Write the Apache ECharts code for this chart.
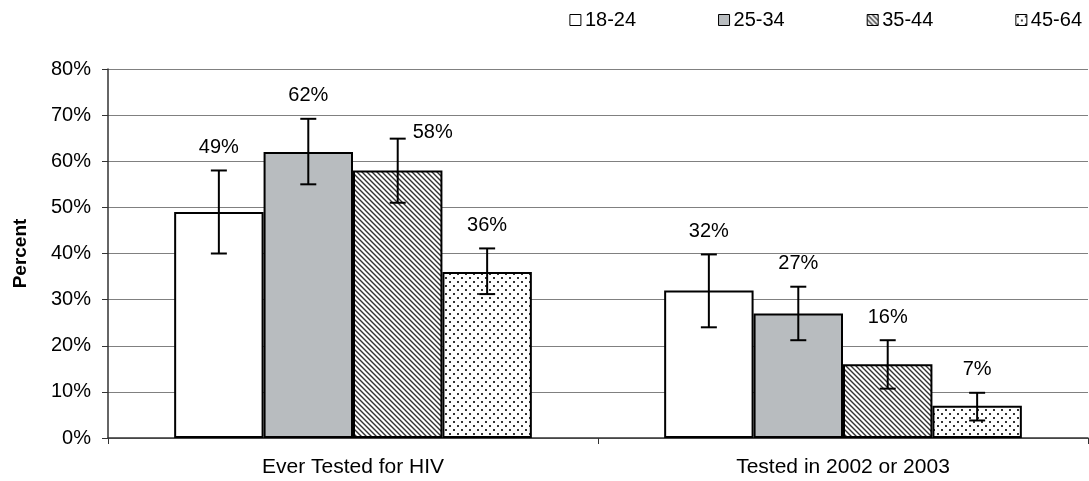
<!DOCTYPE html>
<html>
<head>
<meta charset="utf-8">
<style>
html,body{margin:0;padding:0;background:#fff;}
#chart{width:1089px;height:481px;}
</style>
<script src="https://cdn.jsdelivr.net/npm/echarts@6/dist/echarts.min.js"></script>
</head>
<body>
<div id="chart"></div>
<script>
// ---- data ----
const categories = ['Ever Tested for HIV', 'Tested in 2002 or 2003'];
const seriesNames = ['18-24', '25-34', '35-44', '45-64'];
const values = [
  [49, 32],
  [62, 27],
  [58, 16],
  [36, 7]
];
const errLow = [
  [40, 24],
  [55, 21.2],
  [51, 10.7],
  [31.2, 3.8]
];
const errHigh = [
  [58, 39.8],
  [69.2, 32.8],
  [64.9, 21.2],
  [41.1, 9.8]
];
const yTicks = [0, 10, 20, 30, 40, 50, 60, 70, 80];

const FONT = '"Liberation Sans", Arial, sans-serif';

// ---- patterns ----
function stripePattern() {
  const c = document.createElement('canvas');
  const s = 5;
  c.width = s; c.height = s;
  const g = c.getContext('2d');
  g.fillStyle = '#fff'; g.fillRect(0, 0, s, s);
  g.strokeStyle = '#333'; g.lineWidth = 1.4;
  g.beginPath();
  g.moveTo(-1, -1); g.lineTo(s + 1, s + 1);
  g.moveTo(-1, s - 1); g.lineTo(1, s + 1);
  g.moveTo(s - 1, -1); g.lineTo(s + 1, 1);
  g.stroke();
  return c;
}
function dotPattern() {
  const c = document.createElement('canvas');
  const s = 8;
  c.width = s; c.height = s;
  const g = c.getContext('2d');
  g.fillStyle = '#fff'; g.fillRect(0, 0, s, s);
  g.fillStyle = '#333';
  g.fillRect(1, 1, 2, 2);
  g.fillRect(5, 5, 2, 2);
  return c;
}
const fills = [
  '#ffffff',
  '#b8bcbf',
  { image: stripePattern(), repeat: 'repeat' },
  { image: dotPattern(), repeat: 'repeat' }
];

const GAP = 0.27;
const barSeries = seriesNames.map((name, i) => ({
  name: name,
  type: 'bar',
  data: values[i],
  barGap: '0%',
  barCategoryGap: (GAP * 100) + '%',
  itemStyle: { color: fills[i], borderColor: '#000', borderWidth: 2 },
  z: 2
}));

// error bar data: [catIdx, low, high, seriesIdx, value]
const errData = [];
for (let s = 0; s < seriesNames.length; s++) {
  for (let c = 0; c < categories.length; c++) {
    errData.push([c, errLow[s][c], errHigh[s][c], s, values[s][c]]);
  }
}

const errSeries = {
  type: 'custom',
  name: 'err',
  data: errData,
  encode: { x: 0, y: [1, 2] },
  z: 5,
  silent: true,
  renderItem: function (params, api) {
    const c = api.value(0), lo = api.value(1), hi = api.value(2), s = api.value(3), v = api.value(4);
    const pLo = api.coord([c, lo]);
    const pHi = api.coord([c, hi]);
    const catW = api.size([1, 0])[0];
    const groupW = catW * (1 - GAP);
    const bw = groupW / seriesNames.length;
    const x = pLo[0] - groupW / 2 + bw * (s + 0.5);
    const cap = 8;
    const st = { stroke: '#000', lineWidth: 2 };
    let dx = 0, dy = -23;
    if (s === 2 && c === 0) { dx = 35; dy = -6.5; }
    return {
      type: 'group',
      children: [
        { type: 'line', shape: { x1: x, y1: pLo[1], x2: x, y2: pHi[1] }, style: st },
        { type: 'line', shape: { x1: x - cap, y1: pHi[1], x2: x + cap, y2: pHi[1] }, style: st },
        { type: 'line', shape: { x1: x - cap, y1: pLo[1], x2: x + cap, y2: pLo[1] }, style: st },
        { type: 'text', x: x + dx, y: pHi[1] + dy,
          style: { text: v + '%', fill: '#000', font: '20px ' + FONT,
                   align: 'center', verticalAlign: 'middle' } }
      ]
    };
  }
};

const chart = echarts.init(document.getElementById('chart'), null, { renderer: 'canvas' });
chart.setOption({
  animation: false,
  textStyle: { fontFamily: FONT, color: '#000' },
  legend: {
    data: seriesNames,
    right: 2,
    top: 5,
    itemWidth: 11,
    itemHeight: 11,
    itemGap: 82,
    icon: 'rect',
    itemStyle: { borderColor: '#000', borderWidth: 1 },
    textStyle: { fontSize: 20, color: '#000', padding: [0, 0, 0, -1] }
  },
  grid: { left: 108, right: 1, top: 69, bottom: 43, containLabel: false },
  xAxis: {
    type: 'category',
    data: categories,
    axisLine: { lineStyle: { color: '#333', width: 1.5 } },
    axisTick: { show: true, length: 6, lineStyle: { color: '#333' } },
    axisLabel: { fontSize: 21, color: '#000', margin: 19 },
    splitLine: { show: false }
  },
  yAxis: {
    type: 'value',
    min: yTicks[0],
    max: yTicks[yTicks.length - 1],
    interval: 10,
    name: 'Percent',
    nameLocation: 'middle',
    nameGap: 78,
    nameTextStyle: { fontSize: 19, fontWeight: 'bold', color: '#000' },
    axisLine: { show: true, lineStyle: { color: '#333', width: 1.5 } },
    axisTick: { show: true, length: 6, lineStyle: { color: '#333' } },
    axisLabel: { fontSize: 20, color: '#000', margin: 17, formatter: v => v + '%' },
    splitLine: { show: true, lineStyle: { color: '#808080', width: 1 } }
  },
  series: barSeries.concat([errSeries])
});
</script>
</body>
</html>
